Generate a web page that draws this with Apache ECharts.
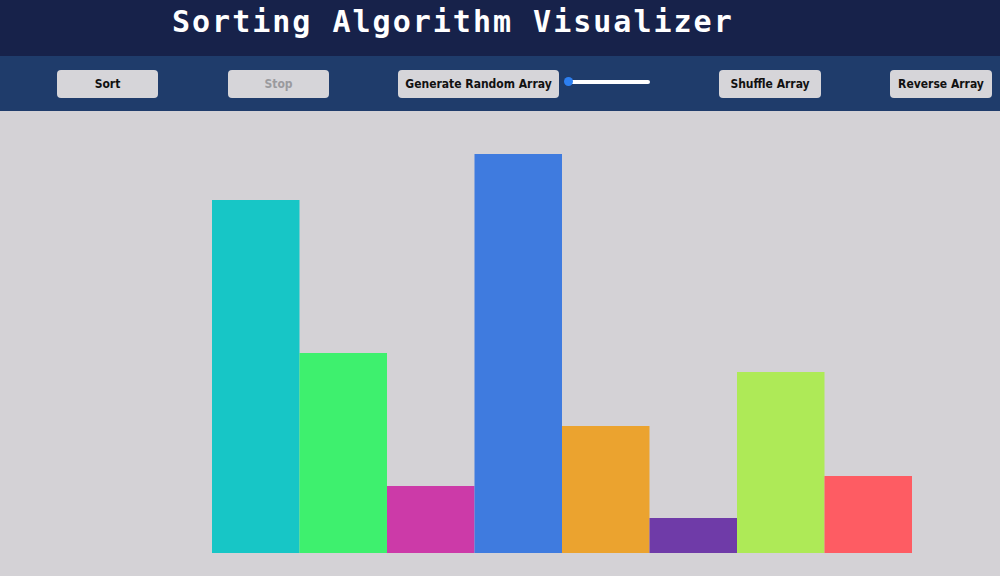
<!DOCTYPE html>
<html>
<head>
<meta charset="utf-8">
<script src="https://cdn.jsdelivr.net/npm/echarts@6/dist/echarts.min.js"></script>
<style>
  body{margin:0;width:1000px;height:576px;overflow:hidden;background:#d4d2d6;font-family:"DejaVu Sans",sans-serif;}
  #head{height:56px;background:#17224a;color:#fff;font-family:"DejaVu Sans Mono",monospace;font-weight:bold;font-size:30px;letter-spacing:2px;line-height:44px;padding-left:172px;box-sizing:border-box;}
  #bar{height:55px;background:#1f3c6b;position:relative;}
  .btn{position:absolute;top:14px;height:28px;background:#d6d5d9;border-radius:4px;font-size:12px;font-weight:bold;color:#111;text-align:center;line-height:28px;font-family:"DejaVu Sans Condensed","DejaVu Sans",sans-serif;}
  .off{color:#9a9a9e;}
  #slider{position:absolute;left:568px;top:24px;width:82px;height:4px;background:#fff;border-radius:2px;}
  #knob{position:absolute;left:564px;top:21px;width:9px;height:9px;border-radius:50%;background:#2d7ff0;}
  #main{position:absolute;left:0;top:111px;width:1000px;height:465px;}
</style>
</head>
<body>
<div id="head">Sorting Algorithm Visualizer</div>
<div id="bar">
  <div class="btn" style="left:57px;width:101px">Sort</div>
  <div class="btn off" style="left:228px;width:101px">Stop</div>
  <div class="btn" style="left:398px;width:161px">Generate Random Array</div>
  <div id="slider"></div><div id="knob"></div>
  <div class="btn" style="left:719px;width:102px">Shuffle Array</div>
  <div class="btn" style="left:890px;width:102px">Reverse Array</div>
</div>
<div id="main"></div>
<script>
var categories = ['1','2','3','4','5','6','7','8'];
var values = [353, 200, 67, 399, 127, 35, 181, 77];
var colors = ['#17c6c6','#3ef06e','#cc3aa8','#3f7bdf','#eba32f','#6f3ba8','#aeea57','#fe5c63'];

var myChart = echarts.init(document.getElementById('main'));
var option = {
    animation: false,
    grid: {left: 212, right: 88, top: 0, bottom: 23},
    xAxis: {
        type: 'category',
        data: categories,
        show: false
    },
    yAxis: {
        type: 'value',
        min: 0,
        max: 442,
        show: false
    },
    series: [{
        type: 'bar',
        barCategoryGap: 0,
        data: values.map(function (v, i) {
            return {value: v, itemStyle: {color: colors[i]}};
        })
    }]
};
myChart.setOption(option);
</script>
</body>
</html>
